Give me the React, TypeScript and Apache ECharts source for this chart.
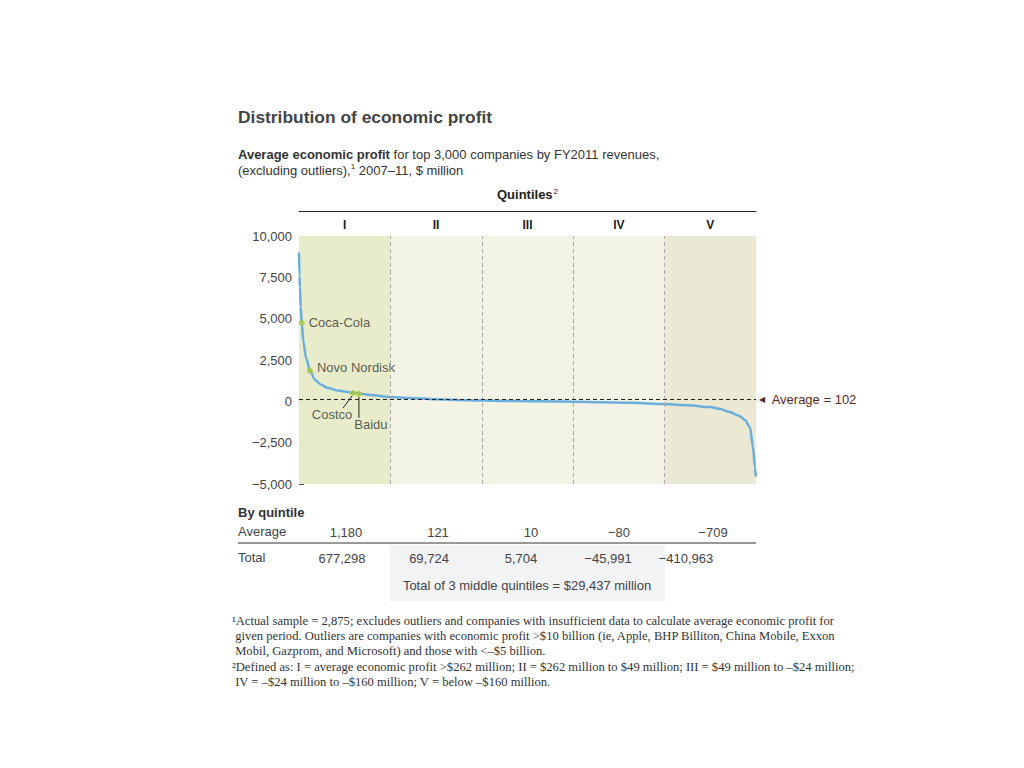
import { useEffect, useRef } from 'react'
import * as echarts from 'echarts'

// company rank (sorted by profit) vs average economic profit, $ million
const curveRanks = [
  0, 3, 6, 11, 17, 28, 45, 69, 101, 140, 182, 250, 340, 377, 450, 575, 700, 850, 1000, 1150,
  1300, 1450, 1600, 1725, 1900, 2100, 2300, 2450, 2585, 2650, 2711, 2770, 2805, 2837, 2856, 2868, 2875,
]
const curveValues = [
  9000, 7600, 6900, 5700, 4740, 3600, 2600, 1850, 1290, 1000, 800, 640, 520, 470, 380, 262, 200, 130, 85, 49,
  25, 8, -8, -24, -50, -90, -160, -240, -345, -470, -650, -880, -1130, -1560, -2760, -4000, -4550,
]

const companyNames = ['Coca-Cola', 'Novo Nordisk', 'Costco', 'Baidu']
const companyRanks = [17, 69, 340, 377]
const companyValues = [4740, 1850, 500, 450]

const quintileLabels = ['I', 'II', 'III', 'IV', 'V']
const quintileBounds = [0, 575, 1150, 1725, 2300, 2875]
const averageProfit = 102
const yTicks = [-5000, -2500, 0, 2500, 5000, 7500, 10000]

const quintileAverages = ['1,180', '121', '10', '\u221280', '\u2212709']
const quintileTotals = ['677,298', '69,724', '5,704', '\u221245,991', '\u2212410,963']
const middleTotalNote = 'Total of 3 middle quintiles = $29,437 million'

const footnotes = [
  '\u00b9Actual sample = 2,875; excludes outliers and companies with insufficient data to calculate average economic profit for',
  ' given period. Outliers are companies with economic profit >$10 billion (ie, Apple, BHP Billiton, China Mobile, Exxon',
  ' Mobil, Gazprom, and Microsoft) and those with <\u2013$5 billion.',
  '\u00b2Defined as: I = average economic profit >$262 million; II = $262 million to $49 million; III = $49 million to \u2013$24 million;',
  ' IV = \u2013$24 million to \u2013$160 million; V = below \u2013$160 million.',
]

const SANS = '"Liberation Sans", Arial, sans-serif'
const SERIF = '"Liberation Serif", "DejaVu Serif", serif'
const TEXT = '#333'

// layout of the table under the chart
const avgX = [346, 438, 531, 619, 713]
const totalX = [342, 429, 521, 608, 686]
// label offsets of the company callouts
const labelPos = ['right', 'right', 'bottom', 'bottom']
const labelOffset = [
  [0, 0],
  [0, -3],
  [-21, 6],
  [12, 15],
]

export default function App() {
  const chartRef = useRef<HTMLDivElement>(null)

  useEffect(() => {
    if (!chartRef.current) return
    const chart = echarts.init(chartRef.current, undefined, { renderer: 'svg' })

    const graphic: any[] = [
      {
        type: 'text',
        left: 238,
        top: 108,
        style: { text: 'Distribution of economic profit', font: `bold 17.4px ${SANS}`, fill: '#444' },
      },
      {
        type: 'text',
        left: 238,
        top: 146,
        style: {
          text: '{b|Average economic profit} for top 3,000 companies by FY2011 revenues,\n(excluding outliers),{s|1} 2007\u201311, $ million',
          font: `13px ${SANS}`,
          fill: TEXT,
          lineHeight: 16,
          rich: {
            b: { font: `bold 13px ${SANS}`, fill: TEXT },
            s: { font: `8px ${SANS}`, fill: TEXT, verticalAlign: 'top', lineHeight: 16, padding: [0, 0, 6, 0] },
          },
        },
      },
      {
        type: 'text',
        left: 238,
        top: 506,
        style: { text: 'By quintile', font: `bold 13px ${SANS}`, fill: TEXT },
      },
      { type: 'text', left: 238, top: 525, style: { text: 'Average', font: `13px ${SANS}`, fill: '#444' } },
      { type: 'text', left: 238, top: 551, style: { text: 'Total', font: `13px ${SANS}`, fill: '#444' } },
      {
        type: 'line',
        shape: { x1: 238, y1: 543, x2: 756, y2: 543 },
        style: { stroke: '#333', lineWidth: 1 },
      },
      {
        type: 'rect',
        shape: { x: 390, y: 545, width: 275, height: 56 },
        style: { fill: '#f2f3f5' },
        z: -1,
      },
      {
        type: 'text',
        x: 527,
        y: 585,
        style: { text: middleTotalNote, font: `13px ${SANS}`, fill: '#444', align: 'center', verticalAlign: 'middle' },
      },
      ...quintileAverages.map((v, i) => ({
        type: 'text',
        x: avgX[i],
        y: 532,
        style: { text: v, font: `13px ${SANS}`, fill: '#444', align: 'center', verticalAlign: 'middle' },
      })),
      ...quintileTotals.map((v, i) => ({
        type: 'text',
        x: totalX[i],
        y: 558,
        style: { text: v, font: `13px ${SANS}`, fill: '#444', align: 'center', verticalAlign: 'middle' },
      })),
      ...footnotes.map((line, i) => ({
        type: 'text',
        left: 232,
        top: 614 + i * 15.4,
        style: { text: line, font: `12.6px ${SERIF}`, fill: TEXT },
      })),
    ]

    const bandColors = ['#e8ecca', '#f3f3e6', '#ebe8d4']

    chart.setOption({
      animation: false,
      grid: { left: 299, right: 268, top: 236, bottom: 284 },
      xAxis: [
        {
          type: 'value',
          min: 0,
          max: quintileBounds[quintileBounds.length - 1],
          axisLine: { show: true, onZero: true, lineStyle: { color: '#777', width: 1 } },
          axisTick: { show: false },
          axisLabel: { show: false },
          splitLine: { show: false },
        },
        {
          type: 'category',
          position: 'top',
          offset: 25,
          data: quintileLabels,
          axisLine: { show: true, lineStyle: { color: '#222', width: 1 } },
          axisTick: { show: false },
          axisLabel: { inside: true, margin: 8, fontFamily: SANS, fontWeight: 'bold', fontSize: 12, color: '#222' },
          name: '{n|Quintiles}{s|2}',
          nameLocation: 'middle',
          nameGap: 9,
          nameTextStyle: {
            rich: {
              n: { fontFamily: SANS, fontWeight: 'bold', fontSize: 13, color: '#222' },
              s: { fontFamily: SANS, fontSize: 8, color: '#222', verticalAlign: 'top', padding: [0, 0, 7, 1] },
            },
          },
        },
      ],
      yAxis: {
        type: 'value',
        min: yTicks[0],
        max: yTicks[yTicks.length - 1],
        interval: 2500,
        axisLine: { show: false },
        axisTick: { show: true, inside: true, length: 5, lineStyle: { color: '#555' } },
        axisLabel: {
          margin: 7,
          fontFamily: SANS,
          fontSize: 13,
          color: '#444',
          formatter: (v: number) => (v < 0 ? '\u2212' : '') + Math.abs(v).toLocaleString('en-US'),
        },
        splitLine: { show: false },
      },
      series: [
        {
          type: 'line',
          data: curveRanks.map((r, i) => [r, curveValues[i]]),
          showSymbol: false,
          smooth: 0.3,
          smoothMonotone: 'x',
          lineStyle: { color: '#6aaedc', width: 2.5 },
          z: 3,
          markArea: {
            silent: true,
            data: [
              [{ xAxis: quintileBounds[0], itemStyle: { color: bandColors[0] } }, { xAxis: quintileBounds[1] }],
              [{ xAxis: quintileBounds[1], itemStyle: { color: bandColors[1] } }, { xAxis: quintileBounds[4] }],
              [{ xAxis: quintileBounds[4], itemStyle: { color: bandColors[2] } }, { xAxis: quintileBounds[5] }],
            ],
          },
          markLine: {
            silent: true,
            symbol: 'none',
            data: [
              ...quintileBounds.slice(1, 5).map((b) => ({
                xAxis: b,
                lineStyle: { color: '#aaa', type: [4, 3], width: 1 },
                label: { show: false },
              })),
              {
                yAxis: averageProfit,
                lineStyle: { color: '#222', type: [4, 3], width: 1 },
                label: {
                  show: true,
                  position: 'end',
                  distance: 3,
                  formatter: '{t|\u25c0}  Average = ' + averageProfit,
                  fontFamily: SANS,
                  fontSize: 13,
                  color: '#5b2a1c',
                  rich: { t: { fontSize: 8, color: '#5b2a1c', fontFamily: '"DejaVu Sans"' } },
                },
              },
            ],
          },
        },
        {
          type: 'scatter',
          data: companyNames.map((n, i) => ({
            name: n,
            value: [companyRanks[i], companyValues[i]],
            label: {
              show: true,
              position: labelPos[i],
              distance: i < 2 ? 4 : 6,
              offset: labelOffset[i],
              formatter: n,
              fontFamily: SANS,
              fontSize: 13,
              color: TEXT,
            },
          })),
          symbolSize: 6,
          itemStyle: { color: '#a8c83c' },
          z: 4,
        },
      ],
      graphic,
    })

    // leader lines for Costco (slanted) and Baidu (straight down)
    const costco = chart.convertToPixel({ xAxisIndex: 0, yAxisIndex: 0 }, [companyRanks[2], companyValues[2]])
    const baidu = chart.convertToPixel({ xAxisIndex: 0, yAxisIndex: 0 }, [companyRanks[3], companyValues[3]])
    chart.setOption({
      graphic: [
        ...graphic,
        {
          type: 'line',
          shape: { x1: costco[0] - 1, y1: costco[1] + 3, x2: costco[0] - 10, y2: costco[1] + 15 },
          style: { stroke: '#222', lineWidth: 1 },
          z: 10,
        },
        {
          type: 'line',
          shape: { x1: baidu[0], y1: baidu[1] + 3, x2: baidu[0], y2: baidu[1] + 24 },
          style: { stroke: '#222', lineWidth: 1 },
          z: 10,
        },
      ],
    })

    return () => chart.dispose()
  }, [])

  return (
    <div
      ref={chartRef}
      style={{ position: 'absolute', left: 0, top: 0, width: 1024, height: 768, background: '#fff' }}
    />
  )
}
